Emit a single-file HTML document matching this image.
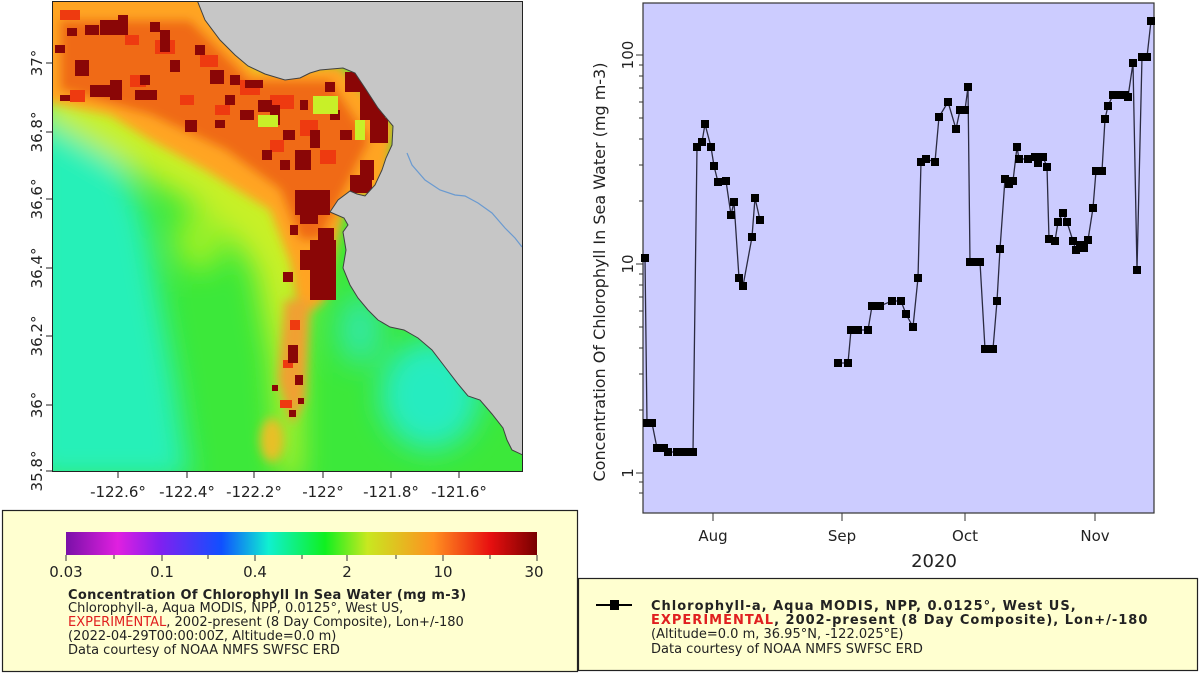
<!DOCTYPE html>
<html><head><meta charset="utf-8"><style>
html,body{margin:0;padding:0;background:#fff;width:1200px;height:675px;overflow:hidden}
svg{position:absolute;left:0;top:0}
text{font-family:"DejaVu Sans","Liberation Sans",sans-serif}
</style></head><body>
<svg width="1200" height="675" viewBox="0 0 1200 675" xmlns="http://www.w3.org/2000/svg">
<defs>
<filter id="b20" x="-30%" y="-30%" width="160%" height="160%"><feGaussianBlur stdDeviation="14"/></filter>
<filter id="b8" x="-30%" y="-30%" width="160%" height="160%"><feGaussianBlur stdDeviation="5"/></filter>
<clipPath id="mc"><rect x="53" y="2" width="469" height="469"/></clipPath>
<linearGradient id="cb" x1="0" x2="1" y1="0" y2="0">
<stop offset="0" stop-color="#7a10a8"/><stop offset="0.11" stop-color="#e020e0"/>
<stop offset="0.2" stop-color="#8020f0"/><stop offset="0.33" stop-color="#1050ff"/>
<stop offset="0.43" stop-color="#10f0d0"/><stop offset="0.55" stop-color="#10f020"/>
<stop offset="0.64" stop-color="#c8e820"/><stop offset="0.78" stop-color="#ff9020"/>
<stop offset="0.9" stop-color="#e81010"/><stop offset="1" stop-color="#780000"/>
</linearGradient>
</defs>

<!-- MAP -->
<g clip-path="url(#mc)">
<rect x="53" y="2" width="469" height="469" fill="#3ce83a"/>
<g filter="url(#b20)">
<polygon points="30,110 90,130 125,170 145,220 160,300 175,380 190,480 30,480" fill="#28f0b8"/>
<ellipse cx="430" cy="395" rx="50" ry="55" fill="#28ecc0"/>
<ellipse cx="360" cy="330" rx="22" ry="35" fill="#30e8a0"/>
<polygon points="40,-10 210,-10 330,60 335,200 315,260 300,330 300,480 282,480 272,360 255,270 215,215 150,180 40,115" fill="#c8f028"/>
<ellipse cx="200" cy="240" rx="25" ry="30" fill="#9af028"/>
</g>
<g filter="url(#b8)">
<polygon points="40,-10 200,-10 255,70 340,65 395,125 385,190 345,205 333,260 325,300 300,320 290,262 270,210 205,170 150,140 110,115 40,100" fill="#ffa424"/>
<polygon points="60,20 190,20 250,80 330,80 370,140 340,200 320,240 300,240 280,190 225,150 150,115 60,90" fill="#f06a18"/>
<polygon points="285,300 310,300 305,400 292,425 278,380" fill="#f0a030"/>
<ellipse cx="272" cy="440" rx="12" ry="22" fill="#e8c028"/>
</g>
<g fill="#ee3a10">
<rect x="60" y="10" width="20" height="10"/><rect x="100" y="20" width="18" height="12"/><rect x="155" y="40" width="20" height="14"/>
<rect x="200" y="55" width="18" height="12"/><rect x="240" y="80" width="20" height="15"/><rect x="270" y="95" width="24" height="14"/>
<rect x="300" y="120" width="18" height="16"/><rect x="270" y="140" width="14" height="12"/><rect x="290" y="320" width="10" height="10"/>
<rect x="283" y="360" width="10" height="8"/><rect x="280" y="400" width="12" height="8"/><rect x="320" y="150" width="16" height="14"/>
<rect x="70" y="90" width="15" height="12"/><rect x="130" y="75" width="16" height="12"/><rect x="215" y="105" width="15" height="10"/>
<rect x="180" y="95" width="14" height="10"/><rect x="125" y="35" width="14" height="10"/>
</g>
<g fill="#8a0606">
<rect x="85" y="25" width="14" height="10"/><rect x="100" y="20" width="18" height="15"/><rect x="118" y="15" width="10" height="20"/>
<rect x="150" y="22" width="10" height="10"/><rect x="160" y="30" width="10" height="22"/><rect x="55" y="45" width="10" height="8"/>
<rect x="75" y="60" width="14" height="16"/><rect x="90" y="85" width="20" height="12"/><rect x="110" y="80" width="12" height="20"/>
<rect x="135" y="90" width="22" height="10"/><rect x="140" y="75" width="10" height="10"/><rect x="60" y="95" width="10" height="6"/>
<rect x="170" y="60" width="10" height="12"/><rect x="195" y="45" width="10" height="10"/><rect x="210" y="70" width="14" height="14"/>
<rect x="230" y="75" width="10" height="10"/><rect x="240" y="110" width="14" height="10"/><rect x="258" y="100" width="14" height="12"/>
<rect x="185" y="120" width="12" height="12"/><rect x="215" y="120" width="10" height="8"/><rect x="245" y="80" width="18" height="8"/>
<rect x="270" y="105" width="10" height="20"/><rect x="283" y="130" width="12" height="10"/><rect x="295" y="150" width="16" height="20"/>
<rect x="280" y="160" width="10" height="10"/><rect x="310" y="130" width="10" height="18"/><rect x="300" y="100" width="8" height="10"/>
<rect x="345" y="72" width="25" height="20"/><rect x="360" y="90" width="25" height="30"/><rect x="370" y="118" width="18" height="25"/>
<rect x="350" y="175" width="22" height="18"/><rect x="360" y="160" width="14" height="20"/><rect x="340" y="130" width="12" height="10"/>
<rect x="325" y="82" width="10" height="10"/><rect x="295" y="190" width="35" height="25"/><rect x="300" y="212" width="18" height="12"/>
<rect x="310" y="240" width="26" height="60"/><rect x="300" y="250" width="10" height="20"/><rect x="318" y="228" width="16" height="12"/>
<rect x="283" y="272" width="10" height="10"/><rect x="288" y="345" width="10" height="18"/><rect x="295" y="375" width="8" height="10"/>
<rect x="272" y="385" width="6" height="6"/><rect x="289" y="410" width="7" height="7"/><rect x="298" y="398" width="6" height="6"/>
<rect x="225" y="95" width="10" height="10"/><rect x="262" y="150" width="10" height="10"/><rect x="330" y="110" width="10" height="10"/>
<rect x="67" y="28" width="10" height="8"/><rect x="290" y="225" width="8" height="10"/>
</g>
<g fill="#c8f028"><rect x="313" y="96" width="25" height="18"/><rect x="258" y="115" width="20" height="12"/><rect x="355" y="120" width="10" height="20"/></g>
<!-- land -->
<polygon points="197,0 205,20 220,40 235,55 248,66 265,74 285,80 300,78 310,73 320,70 343,68 355,73 365,88 378,108 393,126 392,145 386,158 382,170 375,185 365,196 357,194 350,191 338,200 330,212 344,218 348,225 343,232 346,250 343,268 350,285 358,298 368,310 378,320 390,327 404,330 418,338 432,350 445,367 458,384 468,396 480,400 492,414 503,428 507,440 512,450 525,456 525,0" fill="#c6c6c6" stroke="#404040" stroke-width="1"/>
<polyline points="407,153 412,165 425,180 440,190 455,195 465,196 478,203 492,213 505,228 515,238 522,247" fill="none" stroke="#6a9ad0" stroke-width="1.2"/>
</g>
<rect x="52.5" y="1.5" width="470" height="470" fill="none" stroke="#222" stroke-width="1"/>
<g stroke="#222" stroke-width="1">
<line x1="118" y1="471" x2="118" y2="478"/><line x1="187" y1="471" x2="187" y2="478"/><line x1="254" y1="471" x2="254" y2="478"/>
<line x1="323" y1="471" x2="323" y2="478"/><line x1="391" y1="471" x2="391" y2="478"/><line x1="459" y1="471" x2="459" y2="478"/>
<line x1="46" y1="63" x2="53" y2="63"/><line x1="46" y1="132" x2="53" y2="132"/><line x1="46" y1="199" x2="53" y2="199"/>
<line x1="46" y1="268" x2="53" y2="268"/><line x1="46" y1="336" x2="53" y2="336"/><line x1="46" y1="405" x2="53" y2="405"/><line x1="46" y1="471" x2="53" y2="471"/>
</g>
<g font-size="15" fill="#222" text-anchor="middle">
<text x="118" y="497">-122.6°</text><text x="187" y="497">-122.4°</text><text x="254" y="497">-122.2°</text>
<text x="323" y="497">-122°</text><text x="391" y="497">-121.8°</text><text x="459" y="497">-121.6°</text>
<text transform="translate(42,63) rotate(-90)">37°</text><text transform="translate(42,132) rotate(-90)">36.8°</text>
<text transform="translate(42,199) rotate(-90)">36.6°</text><text transform="translate(42,268) rotate(-90)">36.4°</text>
<text transform="translate(42,336) rotate(-90)">36.2°</text><text transform="translate(42,405) rotate(-90)">36°</text>
<text transform="translate(42,471) rotate(-90)">35.8°</text>
</g>

<!-- LEFT LEGEND -->
<rect x="2.5" y="510.5" width="575" height="161" fill="#ffffd0" stroke="#222" stroke-width="1.2"/>
<rect x="66" y="532" width="471" height="23" fill="url(#cb)"/>
<g stroke="#333" stroke-width="1">
<line x1="66" y1="555" x2="66" y2="561"/><line x1="114" y1="555" x2="114" y2="559"/><line x1="162" y1="555" x2="162" y2="561"/>
<line x1="208" y1="555" x2="208" y2="559"/><line x1="255" y1="555" x2="255" y2="561"/><line x1="302" y1="555" x2="302" y2="559"/>
<line x1="347" y1="555" x2="347" y2="561"/><line x1="396" y1="555" x2="396" y2="559"/><line x1="443" y1="555" x2="443" y2="561"/>
<line x1="490" y1="555" x2="490" y2="559"/><line x1="537" y1="555" x2="537" y2="561"/>
</g>
<g font-size="15" fill="#222" text-anchor="middle">
<text x="66" y="577">0.03</text><text x="162" y="577">0.1</text><text x="255" y="577">0.4</text>
<text x="347" y="577">2</text><text x="443" y="577">10</text><text x="534" y="577">30</text>
</g>
<g font-size="13" fill="#222">
<text x="68" y="599" font-weight="bold" letter-spacing="0.3">Concentration Of Chlorophyll In Sea Water (mg m-3)</text>
<text x="68" y="612">Chlorophyll-a, Aqua MODIS, NPP, 0.0125°, West US,</text>
<text x="68" y="626"><tspan fill="#e02020">EXPERIMENTAL</tspan>, 2002-present (8 Day Composite), Lon+/-180</text>
<text x="68" y="640">(2022-04-29T00:00:00Z, Altitude=0.0 m)</text>
<text x="68" y="654">Data courtesy of NOAA NMFS SWFSC ERD</text>
</g>

<!-- CHART -->
<rect x="643" y="3" width="511" height="510" fill="#ccccff" stroke="#333" stroke-width="1.2"/>
<g stroke="#333" stroke-width="1">
<line x1="636" y1="55" x2="643" y2="55"/><line x1="636" y1="264" x2="643" y2="264"/><line x1="636" y1="473" x2="643" y2="473"/>
<line x1="639" y1="493" x2="643" y2="493"/><line x1="639" y1="482" x2="643" y2="482"/>
<line x1="639" y1="410" x2="643" y2="410"/><line x1="639" y1="374" x2="643" y2="374"/><line x1="639" y1="348" x2="643" y2="348"/><line x1="639" y1="327" x2="643" y2="327"/><line x1="639" y1="311" x2="643" y2="311"/><line x1="639" y1="297" x2="643" y2="297"/><line x1="639" y1="285" x2="643" y2="285"/><line x1="639" y1="274" x2="643" y2="274"/>
<line x1="639" y1="201" x2="643" y2="201"/><line x1="639" y1="165" x2="643" y2="165"/><line x1="639" y1="139" x2="643" y2="139"/><line x1="639" y1="118" x2="643" y2="118"/><line x1="639" y1="102" x2="643" y2="102"/><line x1="639" y1="88" x2="643" y2="88"/><line x1="639" y1="76" x2="643" y2="76"/><line x1="639" y1="65" x2="643" y2="65"/>
<line x1="713" y1="513" x2="713" y2="521"/><line x1="842" y1="513" x2="842" y2="521"/><line x1="965" y1="513" x2="965" y2="521"/><line x1="1095" y1="513" x2="1095" y2="521"/>
</g>
<g font-size="15" fill="#222" text-anchor="middle">
<text transform="translate(633,55) rotate(-90)">100</text>
<text transform="translate(633,264) rotate(-90)">10</text>
<text transform="translate(633,473) rotate(-90)">1</text>
<text x="713" y="541">Aug</text><text x="842" y="541">Sep</text><text x="965" y="541">Oct</text><text x="1095" y="541">Nov</text>
<text x="934" y="567" font-size="18">2020</text>
<text transform="translate(605,272) rotate(-90)" font-size="16">Concentration Of Chlorophyll In Sea Water (mg m-3)</text>
</g>
<g fill="none" stroke="#2a2a40" stroke-width="1.3">
<polyline points="645,258 647,423 652,423 657,448 664,448 668,452 677,452 685,452 693,452 697,147 702,142 705,124 711,147 714,166 718,182 726,181 731,215 734,202 739,278 743,286 752,237 755,198 760,220"/>
<polyline points="838,363 848,363 851,330 858,330 868,330 872,306 880,306 892,301 901,301 906,314 913,327 918,278 921,162 926,159 935,162 939,117 948,102 956,129 960,110 965,110 968,87 970,262 976,262 980,262 985,349 990,349 993,349 997,301 1000,249 1005,179 1009,184 1013,181 1017,147 1019,159 1028,159 1035,157 1038,163 1043,157 1047,167 1049,239 1055,241 1058,222 1063,213 1067,222 1073,241 1076,250 1080,245 1084,248 1088,240 1093,208 1096,171 1102,171 1105,119 1108,106 1113,95 1120,95 1125,95 1128,97 1133,63 1137,270 1142,57 1147,57 1151,21"/>
</g>
<g fill="#000">
<rect x="641" y="254" width="8" height="8"/><rect x="643" y="419" width="8" height="8"/><rect x="648" y="419" width="8" height="8"/><rect x="653" y="444" width="8" height="8"/><rect x="660" y="444" width="8" height="8"/><rect x="664" y="448" width="8" height="8"/><rect x="673" y="448" width="8" height="8"/><rect x="681" y="448" width="8" height="8"/><rect x="689" y="448" width="8" height="8"/><rect x="693" y="143" width="8" height="8"/><rect x="698" y="138" width="8" height="8"/><rect x="701" y="120" width="8" height="8"/><rect x="707" y="143" width="8" height="8"/><rect x="710" y="162" width="8" height="8"/><rect x="714" y="178" width="8" height="8"/><rect x="722" y="177" width="8" height="8"/><rect x="727" y="211" width="8" height="8"/><rect x="730" y="198" width="8" height="8"/><rect x="735" y="274" width="8" height="8"/><rect x="739" y="282" width="8" height="8"/><rect x="748" y="233" width="8" height="8"/><rect x="751" y="194" width="8" height="8"/><rect x="756" y="216" width="8" height="8"/>
<rect x="834" y="359" width="8" height="8"/><rect x="844" y="359" width="8" height="8"/><rect x="847" y="326" width="8" height="8"/><rect x="854" y="326" width="8" height="8"/><rect x="864" y="326" width="8" height="8"/><rect x="868" y="302" width="8" height="8"/><rect x="876" y="302" width="8" height="8"/><rect x="888" y="297" width="8" height="8"/><rect x="897" y="297" width="8" height="8"/><rect x="902" y="310" width="8" height="8"/><rect x="909" y="323" width="8" height="8"/><rect x="914" y="274" width="8" height="8"/><rect x="917" y="158" width="8" height="8"/><rect x="922" y="155" width="8" height="8"/><rect x="931" y="158" width="8" height="8"/><rect x="935" y="113" width="8" height="8"/><rect x="944" y="98" width="8" height="8"/><rect x="952" y="125" width="8" height="8"/><rect x="956" y="106" width="8" height="8"/><rect x="961" y="106" width="8" height="8"/><rect x="964" y="83" width="8" height="8"/><rect x="966" y="258" width="8" height="8"/><rect x="972" y="258" width="8" height="8"/><rect x="976" y="258" width="8" height="8"/><rect x="981" y="345" width="8" height="8"/><rect x="986" y="345" width="8" height="8"/><rect x="989" y="345" width="8" height="8"/><rect x="993" y="297" width="8" height="8"/><rect x="996" y="245" width="8" height="8"/><rect x="1001" y="175" width="8" height="8"/><rect x="1005" y="180" width="8" height="8"/><rect x="1009" y="177" width="8" height="8"/><rect x="1013" y="143" width="8" height="8"/><rect x="1015" y="155" width="8" height="8"/><rect x="1024" y="155" width="8" height="8"/><rect x="1031" y="153" width="8" height="8"/><rect x="1034" y="159" width="8" height="8"/><rect x="1039" y="153" width="8" height="8"/><rect x="1043" y="163" width="8" height="8"/><rect x="1045" y="235" width="8" height="8"/><rect x="1051" y="237" width="8" height="8"/><rect x="1054" y="218" width="8" height="8"/><rect x="1059" y="209" width="8" height="8"/><rect x="1063" y="218" width="8" height="8"/><rect x="1069" y="237" width="8" height="8"/><rect x="1072" y="246" width="8" height="8"/><rect x="1076" y="241" width="8" height="8"/><rect x="1080" y="244" width="8" height="8"/><rect x="1084" y="236" width="8" height="8"/><rect x="1089" y="204" width="8" height="8"/><rect x="1092" y="167" width="8" height="8"/><rect x="1098" y="167" width="8" height="8"/><rect x="1101" y="115" width="8" height="8"/><rect x="1104" y="102" width="8" height="8"/><rect x="1109" y="91" width="8" height="8"/><rect x="1116" y="91" width="8" height="8"/><rect x="1121" y="91" width="8" height="8"/><rect x="1124" y="93" width="8" height="8"/><rect x="1129" y="59" width="8" height="8"/><rect x="1133" y="266" width="8" height="8"/><rect x="1138" y="53" width="8" height="8"/><rect x="1143" y="53" width="8" height="8"/><rect x="1147" y="17" width="8" height="8"/>
</g>

<!-- RIGHT LEGEND -->
<rect x="578.5" y="578.5" width="619" height="92" fill="#ffffd0" stroke="#222" stroke-width="1.2"/>
<line x1="596" y1="605" x2="632" y2="605" stroke="#000" stroke-width="2"/>
<rect x="610" y="600" width="9" height="10" fill="#000"/>
<svg x="0" y="0" width="1196" height="675">
<g font-size="13" fill="#222">
<text x="651" y="610" font-weight="bold" letter-spacing="1">Chlorophyll-a, Aqua MODIS, NPP, 0.0125°, West US,</text>
<text x="651" y="624" font-weight="bold" letter-spacing="1"><tspan fill="#e02020">EXPERIMENTAL</tspan>, 2002-present (8 Day Composite), Lon+/-180</text>
<text x="651" y="638">(Altitude=0.0 m, 36.95°N, -122.025°E)</text>
<text x="651" y="653">Data courtesy of NOAA NMFS SWFSC ERD</text>
</g>
</svg>
</svg>
</body></html>
